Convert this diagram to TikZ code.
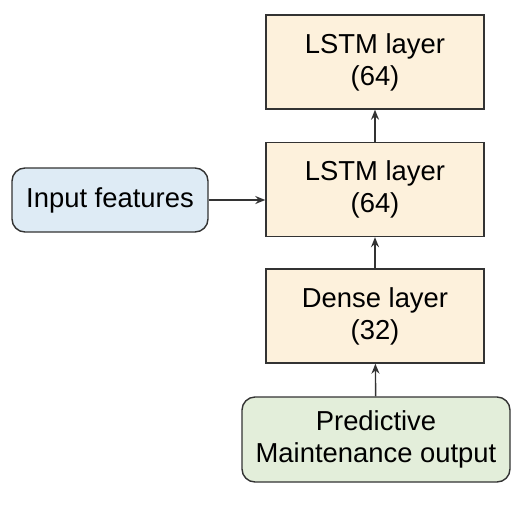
\documentclass[tikz,border=0pt]{standalone}
\usepackage{fontspec}
\setmainfont{Liberation Sans}
\usetikzlibrary{arrows.meta}
\definecolor{layerfill}{HTML}{FDF1DC}
\definecolor{infill}{HTML}{DEEBF5}
\definecolor{outfill}{HTML}{E3EEDA}
\definecolor{edge}{HTML}{333333}
\begin{document}
\begin{tikzpicture}[x=1pt, y=-1pt,
  layer/.style={draw=edge, line width=1.4pt, fill=layerfill, minimum width=218pt, minimum height=94pt, align=center, inner sep=0pt, font=\fontsize{27.4}{32}\selectfont},
  term/.style={draw=edge, line width=1.4pt, rounded corners=13pt, align=center, inner sep=0pt, font=\fontsize{27.4}{32}\selectfont},
  flow/.style={-{Stealth[length=10pt,width=8pt]}, draw=edge, line width=1.4pt}]
\useasboundingbox (0,0) rectangle (529,522);
\node[layer] (lstmB) at (375,62) {LSTM layer\\(64)};
\node[layer] (lstmA) at (375,189.5) {LSTM layer\\(64)};
\node[layer] (dense) at (375,316) {Dense layer\\(32)};
\node[term, fill=outfill, minimum width=268pt, minimum height=85pt] (out) at (376,439.5) {Predictive\\Maintenance output};
\node[term, fill=infill, minimum width=196pt, minimum height=64pt] (in) at (110,200) {Input features};
\draw[flow] (in.east) -- (in.east -| lstmA.west);
\draw[flow] (out) -- (dense);
\draw[flow] (dense) -- (lstmA);
\draw[flow] (lstmA) -- (lstmB);
\end{tikzpicture}
\end{document}
